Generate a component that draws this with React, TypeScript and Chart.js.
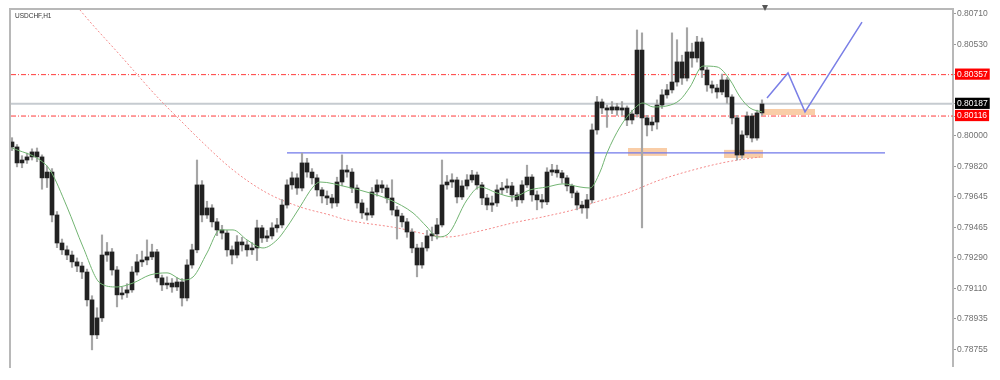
import React, { useEffect, useRef } from "react";
import { Chart, registerables } from "chart.js";

Chart.register(...registerables);

const SYMBOL_TITLE = "USDCHF,H1";

// USDCHF H1 quotes in points (1 point = 0.00001)
const FIRST_OPEN = 79965;
const closes = [
  79936, 79843, 79860, 79878, 79907, 79878, 79756, 79790, 79540, 79377,
  79337, 79307, 79267, 79243, 79208, 79046, 78842, 78941, 79307, 79325,
  79220, 79075, 79086, 79104, 79208, 79267, 79278, 79296, 79325, 79174,
  79133, 79144, 79121, 79150, 79057, 79249, 79337, 79715, 79540, 79581,
  79500, 79453, 79435, 79337, 79307, 79383, 79366, 79337, 79348, 79465,
  79406, 79418, 79465, 79482, 79598, 79715, 79756, 79697, 79843, 79790,
  79756, 79686, 79651, 79639, 79610, 79732, 79802, 79790, 79697, 79610,
  79552, 79540, 79674, 79715, 79697, 79639, 79569, 79534, 79500, 79441,
  79348, 79249, 79348, 79418, 79430, 79482, 79715, 79732, 79744, 79645,
  79709, 79744, 79773, 79715, 79639, 79598, 79610, 79686, 79697, 79709,
  79657, 79628, 79715, 79761, 79657, 79628, 79616, 79790, 79802, 79785,
  79756, 79709, 79668, 79598, 79581, 79628, 80035, 80198, 80163, 80151,
  80169, 80151, 80163, 80093, 80128, 80500, 80105, 80064, 80081, 80180,
  80239, 80268, 80314, 80431, 80337, 80489, 80454, 80547, 80384, 80297,
  80279, 80256, 80326, 80227, 80105, 79889, 80006, 80116, 79988, 80134, 80186,
];
const highs = [
  79990, 79950, 79885, 79900, 79925, 79930, 79890, 79825, 79810, 79560,
  79400, 79360, 79330, 79290, 79265, 79225, 79070, 79000, 79424, 79380,
  79345, 79240, 79120, 79140, 79240, 79310, 79330, 79395, 79370, 79340,
  79190, 79180, 79170, 79175, 79170, 79280, 79370, 79860, 79740, 79620,
  79600, 79520, 79480, 79450, 79360, 79420, 79410, 79390, 79380, 79510,
  79480, 79450, 79495, 79520, 79630, 79745, 79790, 79780, 79900, 79870,
  79810, 79775, 79700, 79680, 79660, 79760, 79890, 79830, 79810, 79715,
  79630, 79580, 79700, 79745, 79740, 79715, 79745, 79590, 79550, 79520,
  79460, 79370, 79380, 79450, 79470, 79520, 79860, 79770, 79780, 79760,
  79740, 79775, 79800, 79790, 79730, 79660, 79650, 79715, 79730, 79750,
  79730, 79670, 79740, 79830, 79775, 79680, 79660, 79815, 79835, 79830,
  79800, 79770, 79720, 79680, 79620, 79660, 80070, 80230, 80215, 80180,
  80200, 80190, 80200, 80175, 80150, 80617, 80600, 80120, 80110, 80210,
  80270, 80300, 80600, 80560, 80470, 80630, 80540, 80580, 80570, 80400,
  80320, 80300, 80360, 80340, 80240, 80120, 80030, 80140, 80130, 80150, 80210,
];
const lows = [
  79915, 79820, 79815, 79840, 79860, 79850, 79690, 79700, 79500, 79350,
  79310, 79280, 79235, 79210, 79170, 79010, 78755, 78820, 78920, 79270,
  79190, 79005, 79050, 79060, 79090, 79190, 79240, 79250, 79280, 79150,
  79100, 79110, 79090, 79100, 79010, 79040, 79230, 79320, 79500, 79520,
  79470, 79420, 79400, 79300, 79255, 79290, 79330, 79300, 79310, 79275,
  79380, 79385, 79400, 79440, 79465, 79580, 79690, 79660, 79680, 79760,
  79720, 79650, 79610, 79600, 79580, 79590, 79710, 79760, 79670, 79580,
  79520, 79510, 79525, 79650, 79670, 79610, 79540, 79400, 79470, 79410,
  79320, 79180, 79230, 79330, 79390, 79400, 79470, 79690, 79700, 79610,
  79630, 79690, 79730, 79690, 79600, 79570, 79560, 79590, 79660, 79670,
  79620, 79590, 79610, 79700, 79620, 79570, 79580, 79600, 79770, 79760,
  79725, 79680, 79640, 79570, 79550, 79520, 79610, 80010, 80130, 80050,
  80130, 80120, 80120, 80060, 80070, 80110, 79465, 80000, 80030, 80040,
  80160, 80220, 80250, 80290, 80300, 80320, 80400, 80430, 80340, 80260,
  80250, 80220, 80240, 80190, 80070, 79860, 79870, 79990, 79965, 79975, 80120,
];

// moving averages: [bar index, price]
const greenMA = [
  [0, 0.7993], [5.6, 0.7986], [7.6, 0.79802], [11, 0.79587], [14.2, 0.79354],
  [17.6, 0.79144], [21, 0.79121], [24.2, 0.79144], [27.6, 0.79191], [31, 0.79203],
  [34.2, 0.79162], [36.2, 0.79179], [39, 0.79319], [41.6, 0.79453], [44.2, 0.79453],
  [47, 0.79395], [50.2, 0.79348], [53, 0.79395], [55, 0.7947], [57.6, 0.79587],
  [60.2, 0.79703], [61.6, 0.79732], [67, 0.79703], [71.6, 0.79668], [75.6, 0.79628],
  [80.2, 0.79552], [83, 0.7947], [85, 0.79412], [87, 0.79424], [91, 0.79628],
  [93.6, 0.79703], [97, 0.79668], [100.2, 0.79645], [103.6, 0.79686], [107, 0.79703],
  [110.2, 0.79721], [113.6, 0.79703], [115.6, 0.79697], [117.6, 0.7979], [119, 0.79901],
  [121.6, 0.80052], [124.2, 0.80151], [126.2, 0.80192], [128.2, 0.80169], [131, 0.80175],
  [133.6, 0.8021], [135.6, 0.80285], [138.2, 0.80407], [141, 0.80402], [143.6, 0.80326],
  [145.6, 0.80227], [147.6, 0.80163], [150, 0.8014],
];
const redMA = [
  [11.6, 0.80809], [13.6, 0.80733], [21.6, 0.80471], [29.6, 0.8021], [33.6, 0.80093],
  [37.6, 0.79977], [44.2, 0.79802], [51, 0.79668], [57.6, 0.79587], [63.6, 0.7954],
  [67, 0.79511], [77, 0.79465], [83.6, 0.79424], [87, 0.79412], [93.6, 0.79447],
  [100.2, 0.79494], [107, 0.79534], [113.6, 0.79581], [116.2, 0.7961], [123, 0.79668],
  [129.6, 0.79744], [136.2, 0.79802], [143, 0.79849], [149.6, 0.79878],
];

const PRICE_TICKS = [
  0.8071, 0.8053, 0.80357, 0.80187, 0.80116, 0.8, 0.7982, 0.79645, 0.79465,
  0.7929, 0.7911, 0.78935, 0.78755,
];
const RED_LEVELS = [0.80357, 0.80116];
const BID = 0.80187;
const SUPPORT = { from: 55, to: 174.6, price: 0.79901 };
// zones: [from index, to index, price a, price b]
const ZONES = [
  [123.2, 131, 0.7993, 0.79884],
  [142.4, 150.2, 0.79919, 0.79872],
  [150, 160.6, 0.80157, 0.80122],
];
const PROJECTION = [
  [151, 0.80221],
  [155.2, 0.80367],
  [158.6, 0.8014],
  [170, 0.80663],
];
const SHIFT_MARK = 150.6;
const X_MIN = -0.2;
const X_MAX = 188.2;
const Y_MIN = 0.78661;
const Y_MAX = 0.80739;

const pt = (v: number) => v / 100000;

export default function App() {
  const ref = useRef<HTMLCanvasElement | null>(null);

  useEffect(() => {
    if (!ref.current) return;
    const opens = [FIRST_OPEN, ...closes.slice(0, -1)];
    const wickData = closes.map((_, i) => ({ x: i, y: [pt(lows[i]), pt(highs[i])] }));
    const bodyData = closes.map((c, i) => ({ x: i, y: [pt(opens[i]), pt(c)] }));
    const hline = (p: number, a = X_MIN, b = X_MAX) => [
      { x: a, y: p },
      { x: b, y: p },
    ];
    const isRed = (v: number) => RED_LEVELS.some((r) => Math.abs(r - v) < 1e-7);
    const isBid = (v: number) => Math.abs(BID - v) < 1e-7;

    const overlay = {
      id: "overlay",
      beforeDatasetsDraw(chart: any) {
        const { ctx, scales } = chart;
        const x = scales.x;
        const y = scales.y;
        ctx.save();
        ctx.fillStyle = "rgba(247, 192, 145, 0.8)";
        ZONES.forEach(([i0, i1, p0, p1]) => {
          const xa = x.getPixelForValue(i0);
          const xb = x.getPixelForValue(i1);
          const ya = y.getPixelForValue(p0);
          const yb = y.getPixelForValue(p1);
          ctx.fillRect(xa, Math.min(ya, yb), xb - xa, Math.abs(yb - ya));
        });
        ctx.restore();
      },
      afterDraw(chart: any) {
        const { ctx, chartArea: a, scales } = chart;
        ctx.save();
        ctx.strokeStyle = "#b8b8b8";
        ctx.lineWidth = 2;
        ctx.beginPath();
        ctx.moveTo(a.left - 1, a.bottom + 2);
        ctx.lineTo(a.left - 1, a.top);
        ctx.lineTo(a.right, a.top);
        ctx.stroke();
        ctx.fillStyle = "#333";
        ctx.font = '6.5px "Liberation Sans", Arial, sans-serif';
        ctx.textBaseline = "top";
        ctx.fillText(SYMBOL_TITLE, a.left + 4, a.top + 4);
        const mx = scales.x.getPixelForValue(SHIFT_MARK);
        ctx.fillStyle = "#555";
        ctx.beginPath();
        ctx.moveTo(mx - 3, a.top - 4);
        ctx.lineTo(mx + 3, a.top - 4);
        ctx.lineTo(mx, a.top + 2);
        ctx.closePath();
        ctx.fill();
        ctx.restore();
      },
    };

    const chart = new Chart(ref.current, {
      type: "bar",
      data: {
        datasets: [
          {
            type: "line",
            data: PROJECTION.map(([x, y]) => ({ x, y })),
            borderColor: "#7a7fe6",
            borderWidth: 1.5,
            pointRadius: 0,
            order: 1,
          } as any,
          {
            type: "line",
            data: greenMA.map(([x, y]) => ({ x, y })),
            borderColor: "#72b472",
            borderWidth: 1,
            pointRadius: 0,
            cubicInterpolationMode: "monotone",
            order: 2,
          } as any,
          {
            type: "bar",
            data: bodyData,
            backgroundColor: "#222222",
            barThickness: 4,
            grouped: false,
            minBarLength: 1,
            order: 3,
          } as any,
          {
            type: "bar",
            data: wickData,
            backgroundColor: "#a6a6a6",
            barThickness: 1.5,
            grouped: false,
            order: 4,
          } as any,
          {
            type: "line",
            data: hline(SUPPORT.price, SUPPORT.from, SUPPORT.to),
            borderColor: "#7078ea",
            borderWidth: 1.2,
            pointRadius: 0,
            order: 5,
          } as any,
          {
            type: "line",
            data: redMA.map(([x, y]) => ({ x, y })),
            borderColor: "#f48a8a",
            borderWidth: 1,
            borderDash: [2, 2],
            pointRadius: 0,
            cubicInterpolationMode: "monotone",
            order: 6,
          } as any,
          ...RED_LEVELS.map(
            (p) =>
              ({
                type: "line",
                data: hline(p),
                borderColor: "#ff3b3b",
                borderWidth: 1,
                borderDash: [5, 2, 1, 2],
                pointRadius: 0,
                order: 7,
              }) as any
          ),
          {
            type: "line",
            data: hline(BID),
            borderColor: "#c6cbd0",
            borderWidth: 2,
            pointRadius: 0,
            order: 8,
          } as any,
        ],
      },
      options: {
        responsive: false,
        maintainAspectRatio: false,
        animation: false,
        devicePixelRatio: 1,
        layout: { padding: { left: 11, top: 9, right: 0, bottom: 14 } },
        plugins: {
          legend: { display: false },
          tooltip: { enabled: false },
        },
        scales: {
          x: {
            type: "linear",
            min: X_MIN,
            max: X_MAX,
            offset: false,
            display: false,
          },
          y: {
            type: "linear",
            position: "right",
            min: Y_MIN,
            max: Y_MAX,
            afterBuildTicks: (scale: any) => {
              scale.ticks = PRICE_TICKS.map((v) => ({ value: v }));
            },
            afterFit: (scale: any) => {
              scale.width = 47;
            },
            grid: {
              drawOnChartArea: false,
              drawTicks: true,
              tickLength: 3,
              color: "#9a9a9a",
            },
            border: { display: true, color: "#b8b8b8", width: 2 },
            ticks: {
              autoSkip: false,
              padding: 1,
              font: { family: '"Liberation Sans", Arial, sans-serif', size: 8.5 },
              color: (ctx: any) =>
                isRed(ctx.tick?.value) || isBid(ctx.tick?.value) ? "#ffffff" : "#707070",
              showLabelBackdrop: (ctx: any) => isRed(ctx.tick?.value) || isBid(ctx.tick?.value),
              backdropColor: (ctx: any) =>
                isRed(ctx.tick?.value) ? "#ff0000" : isBid(ctx.tick?.value) ? "#000000" : "rgba(0,0,0,0)",
              backdropPadding: { top: 1, bottom: 0, left: 2, right: 2 },
              callback: (v: any) => Number(v).toFixed(5),
            },
          },
        },
      } as any,
      plugins: [overlay],
    });
    return () => chart.destroy();
  }, []);

  return (
    <div style={{ position: "fixed", left: 0, top: 0, width: 1000, height: 380, background: "#fff" }}>
      <canvas ref={ref} width={1000} height={380} />
    </div>
  );
}
